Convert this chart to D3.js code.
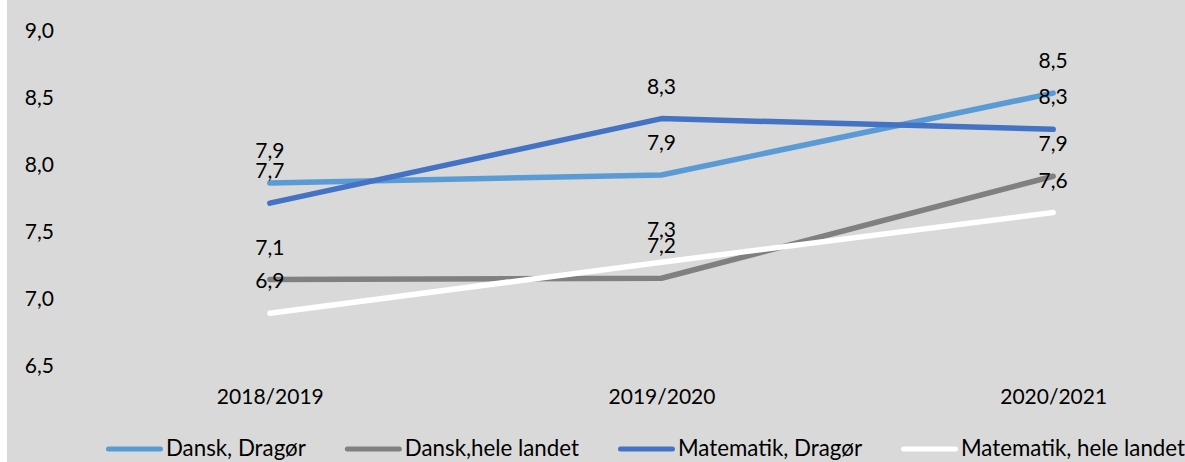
<!DOCTYPE html>
<html>
<head>
<meta charset="utf-8">
<script src="https://cdn.jsdelivr.net/npm/d3@7"></script>
<style>
  html, body { margin: 0; padding: 0; background: #ffffff; }
  svg { display: block; }
  text { font-family: Lato, "Open Sans", sans-serif; fill: #000; }
</style>
</head>
<body>
<svg id="chart" width="1185" height="462"></svg>
<script>
const categories = ["2018/2019", "2019/2020", "2020/2021"];
const seriesNames = ["Dansk, Dragør", "Dansk,hele landet", "Matematik, Dragør", "Matematik, hele landet"];
const danskDragor = [7.86, 7.92, 8.53];
const danskLandet = [7.14, 7.15, 7.91];
const matDragor = [7.71, 8.34, 8.26];
const matLandet = [6.89, 7.27, 7.64];
const yTicks = [6.5, 7.0, 7.5, 8.0, 8.5, 9.0];
const seriesColors = ["#5B9BD5", "#808080", "#4472C4", "#FFFFFF"];

const series = [danskDragor, danskLandet, matDragor, matLandet].map((vals, i) => ({
  name: seriesNames[i], color: seriesColors[i],
  values: vals.map((v, j) => ({ cat: categories[j], v }))
}));

const W = 1185, H = 462;
const svg = d3.select("#chart");
const fontSize = 21;
const legendFontSize = 22.3;
const fmt = v => d3.format(".1f")(v).replace(".", ",");

// background
svg.append("rect").attr("x", 7).attr("y", 0).attr("width", W - 7).attr("height", H).attr("fill", "#D9D9D9");

const x = d3.scalePoint().domain(categories).range([74, 1249]).padding(0.5);
const y = d3.scaleLinear().domain([6.5, 9.0]).range([365.5, 30]);

// y axis
const yAxis = svg.append("g").attr("transform", "translate(57,0)")
  .call(d3.axisLeft(y).tickValues(yTicks).tickSize(0).tickPadding(3).tickFormat(fmt));
yAxis.select(".domain").remove();
yAxis.selectAll("text").attr("font-family", "Lato").attr("font-size", fontSize).attr("fill", "#000").attr("dy", "0.35em");

// x axis
const xAxis = svg.append("g").attr("transform", "translate(0,404)")
  .call(d3.axisBottom(x).tickSize(0).tickPadding(0));
xAxis.select(".domain").remove();
xAxis.selectAll("text").attr("font-family", "Lato").attr("font-size", fontSize).attr("fill", "#000").attr("y", 0).attr("dy", 0);

// lines
const line = d3.line().x(d => x(d.cat)).y(d => y(d.v));
svg.append("g").selectAll("path").data(series).join("path")
  .attr("d", d => line(d.values))
  .attr("fill", "none")
  .attr("stroke", d => d.color)
  .attr("stroke-width", 5.5)
  .attr("stroke-linecap", "round")
  .attr("stroke-linejoin", "round");

// data labels
const lbl = svg.append("g");
series.forEach(s => {
  lbl.selectAll(null).data(s.values).join("text")
    .attr("x", d => x(d.cat))
    .attr("y", d => y(d.v) - 25)
    .attr("text-anchor", "middle")
    .attr("font-size", fontSize)
    .text(d => fmt(d.v));
});

// legend
const legend = svg.append("g");
const lineLen = 57, gapText = 3, itemGap = 39, legY = 449;
const items = series.map(s => {
  const g = legend.append("g");
  g.append("line").attr("x1", 2.5).attr("x2", lineLen - 2.5).attr("y1", legY).attr("y2", legY)
    .attr("stroke", s.color).attr("stroke-width", 5).attr("stroke-linecap", "round");
  const t = g.append("text").attr("x", lineLen + gapText).attr("y", 455.5).attr("font-size", legendFontSize).text(s.name);
  return { g, w: lineLen + gapText + t.node().getComputedTextLength() };
});
const total = d3.sum(items, d => d.w) + itemGap * (items.length - 1);
let cx = 645.5 - total / 2;
items.forEach(it => { it.g.attr("transform", `translate(${cx},0)`); cx += it.w + itemGap; });
</script>
</body>
</html>
